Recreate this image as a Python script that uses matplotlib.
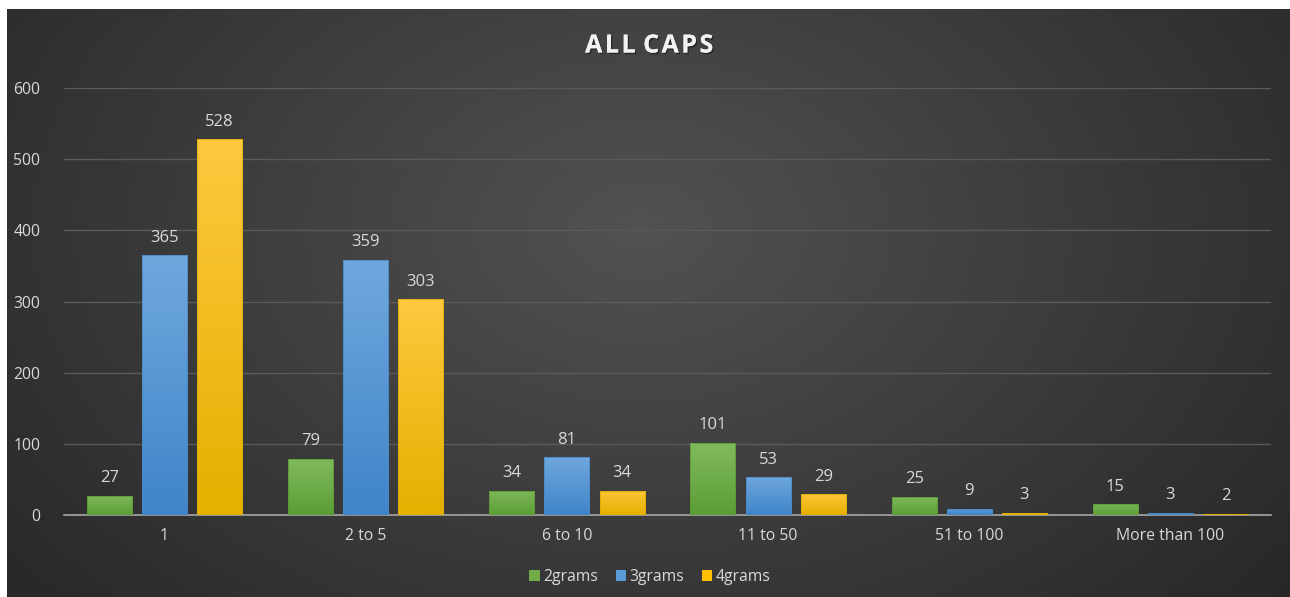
import matplotlib
matplotlib.use("Agg")
import matplotlib.pyplot as plt
import matplotlib.patheffects as pe
from matplotlib.colors import LinearSegmentedColormap
from matplotlib.patches import Rectangle, Patch
import numpy as np

plt.rcParams['font.family'] = ['Open Sans', 'DejaVu Sans']

categories = ["1", "2 to 5", "6 to 10", "11 to 50", "51 to 100", "More than 100"]
series_names = ["2grams", "3grams", "4grams"]
grams2 = [27, 79, 34, 101, 25, 15]
grams3 = [365, 359, 81, 53, 9, 3]
grams4 = [528, 303, 34, 29, 3, 2]
series = [grams2, grams3, grams4]

# (top colour, bottom colour, edge colour, legend colour) per series
bar_colors = [("#82bb5e", "#5c9d36", "#5a9a35", "#70ad47"),
              ("#70a8de", "#3f85c9", "#4a88c8", "#5b9bd5"),
              ("#ffc83f", "#e5b000", "#e0ad00", "#ffc000")]
txt = "#d9d9d9"

fig = plt.figure(figsize=(12.9, 5.97), dpi=100)

# background: white margin, then a radial dark-grey gradient
bg = fig.add_axes([0, 0, 1, 1])
bg.set_axis_off()
H, W = 597, 1290
yy, xx = np.mgrid[0:H, 0:W]
r = np.sqrt(((xx - 640) / 760.0) ** 2 + ((yy - 230) / 520.0) ** 2)
shade = np.clip(0.32 - 0.15 * r, 0.14, 0.33)
img = np.dstack([shade, shade, shade])
img[:9, :, :] = 1.0
img[:, :7, :] = 1.0
bg.imshow(img, extent=(0, 1, 0, 1), aspect='auto', origin='upper')
bg.set_xlim(0, 1)
bg.set_ylim(0, 1)

ax = fig.add_axes([64 / 1290, 82 / 597, 1207 / 1290, 427 / 597])
ax.patch.set_alpha(0)
ax.set_xlim(-0.5, len(categories) - 0.5)
ax.set_ylim(0, 600)

width = 0.224
offsets = [-0.274, 0.0, 0.274]
x = np.arange(len(categories))
grad = np.linspace(0, 1, 100).reshape(-1, 1)

handles = []
for vals, off, (ctop, cbot, cedge, cleg), name in zip(series, offsets, bar_colors, series_names):
    cmap = LinearSegmentedColormap.from_list(name, [cbot, ctop])
    for xi, v in zip(x, vals):
        x0 = xi + off - width / 2
        rect = Rectangle((x0, 0), width, v, facecolor=cleg, edgecolor=cedge,
                         linewidth=0.6, zorder=3)
        ax.add_patch(rect)
        im = ax.imshow(grad, cmap=cmap, extent=(x0 - 0.01, x0 + width + 0.01, 0, v + 3),
                       aspect='auto', origin='lower', zorder=3.5, interpolation='bilinear')
        im.set_clip_path(rect)
        ax.add_patch(Rectangle((x0, 0), width, v, fill=False, edgecolor=cedge,
                               linewidth=0.6, zorder=4))
        ax.annotate(str(v), (xi + off, v), xytext=(0, 7), textcoords='offset points',
                    ha='center', va='bottom', color=txt, fontsize=12, zorder=5)
    handles.append(Patch(facecolor=cleg, edgecolor='none', label=name))

ax.set_xlim(-0.5, len(categories) - 0.5)
ax.set_ylim(0, 600)
ax.set_yticks(range(0, 601, 100))
ax.set_xticks(x)
ax.set_xticklabels(categories)
ax.tick_params(axis='both', length=0, colors=txt, labelsize=11.3)
ax.tick_params(axis='y', pad=17)
ax.tick_params(axis='x', pad=9)
ax.grid(axis='y', color='#5a5a5a', linewidth=1)
ax.set_axisbelow(True)
for s in ['top', 'right', 'left']:
    ax.spines[s].set_visible(False)
ax.spines['bottom'].set_color('#a6a6a6')
ax.spines['bottom'].set_linewidth(1.2)
ax.spines['bottom'].set_zorder(2.5)

fig.text(648 / 1290, 1 - 46 / 597, "\u200aA L L   C A P S".replace(" ", "\u200a"), ha='center', va='center',
         color='#f2f2f2', fontsize=18, fontweight='bold',
         path_effects=[pe.withSimplePatchShadow(offset=(1, -1.2), shadow_rgbFace='black', alpha=0.4),
                       pe.Normal()])

fig.legend(handles=handles, loc='center', bbox_to_anchor=(650 / 1290, 1 - 577 / 597), ncol=3,
           frameon=False, fontsize=11.3, handlelength=0.65, handleheight=0.65,
           handletextpad=0.25, columnspacing=1.1, labelcolor=txt)

fig.savefig("out.png", dpi=100)
